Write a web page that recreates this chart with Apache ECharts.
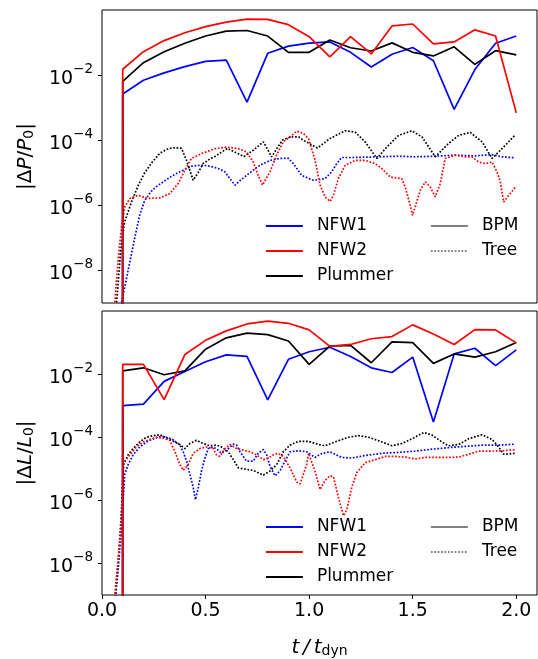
<!DOCTYPE html>
<html>
<head>
<meta charset="utf-8">
<script src="https://cdn.jsdelivr.net/npm/echarts@6/dist/echarts.min.js"></script>
<style>html,body{margin:0;padding:0;background:#fff;}#c{width:538px;height:659px;}</style>
</head>
<body>
<div id="c"></div>
<script>
// ---- data (values stored as log10 of the relative error) ----
const tBPM = [0.099,0.1,0.2,0.3,0.4,0.5,0.6,0.7,0.8,0.9,1.0,1.1,1.2,1.3,1.4,1.5,1.6,1.7,1.8,1.9,2.0];
// first entry: essentially zero error at start
const bpmP_NFW1    = [-16,-2.58,-2.16,-1.93,-1.74,-1.58,-1.54,-2.83,-1.33,-1.11,-1.02,-0.98,-1.30,-1.75,-1.36,-1.15,-1.56,-3.05,-1.83,-1.02,-0.80];
const bpmP_NFW2    = [-16,-1.82,-1.28,-0.94,-0.70,-0.51,-0.37,-0.28,-0.29,-0.45,-0.82,-1.44,-0.82,-1.35,-0.49,-0.43,-1.04,-0.98,-0.61,-0.80,-3.16];
const bpmP_Plummer = [-16,-2.19,-1.62,-1.28,-1.02,-0.80,-0.65,-0.63,-0.80,-1.30,-1.30,-0.92,-1.16,-1.26,-1.01,-1.30,-1.41,-1.13,-1.67,-1.25,-1.38];
const bpmL_NFW1    = [-16,-3.00,-2.95,-2.23,-1.92,-1.61,-1.39,-1.44,-2.82,-1.53,-1.29,-1.15,-1.44,-1.80,-1.95,-1.46,-3.52,-1.36,-1.18,-1.73,-1.23];
const bpmL_NFW2    = [-16,-1.69,-1.69,-2.81,-1.38,-0.93,-0.63,-0.41,-0.32,-0.39,-0.60,-1.12,-1.06,-0.88,-0.81,-0.44,-0.73,-1.06,-0.59,-0.60,-1.01];
const bpmL_Plummer = [-16,-1.90,-1.80,-2.02,-1.90,-1.21,-0.85,-0.70,-0.75,-0.95,-1.69,-1.11,-1.09,-1.64,-0.98,-1.00,-1.66,-1.36,-1.46,-1.29,-1.00];

const treeP_NFW1 = [[0.085,-9.5],[0.094,-9.0],[0.11,-8.5],[0.134,-7.75],[0.158,-7.0],[0.182,-6.3],[0.206,-5.85],[0.239,-5.56],[0.263,-5.42],[0.295,-5.28],[0.33,-5.13],[0.36,-5.02],[0.392,-4.92],[0.432,-4.80],[0.472,-4.77],[0.505,-4.78],[0.537,-4.82],[0.565,-4.88],[0.593,-4.97],[0.62,-5.2],[0.642,-5.38],[0.67,-5.22],[0.698,-5.08],[0.73,-4.92],[0.762,-4.77],[0.811,-4.62],[0.859,-4.56],[0.90,-4.56],[0.924,-4.72],[0.964,-5.08],[1.02,-5.23],[1.077,-5.18],[1.109,-4.97],[1.133,-4.72],[1.157,-4.53],[1.222,-4.53],[1.335,-4.51],[1.432,-4.49],[1.512,-4.51],[1.609,-4.49],[1.706,-4.46],[1.802,-4.48],[1.883,-4.44],[1.931,-4.51],[1.993,-4.54]];
const treeP_NFW2 = [[0.058,-9.5],[0.062,-9.0],[0.07,-8.28],[0.081,-7.46],[0.094,-6.67],[0.11,-6.05],[0.134,-5.79],[0.174,-5.69],[0.222,-5.79],[0.279,-5.77],[0.327,-5.64],[0.368,-5.33],[0.40,-4.92],[0.432,-4.56],[0.48,-4.41],[0.545,-4.26],[0.601,-4.21],[0.658,-4.26],[0.698,-4.36],[0.730,-4.67],[0.754,-5.08],[0.775,-5.38],[0.811,-4.97],[0.843,-4.46],[0.875,-4.05],[0.908,-3.90],[0.940,-3.72],[0.972,-3.79],[0.997,-3.95],[1.028,-4.6],[1.053,-5.38],[1.077,-5.74],[1.101,-5.88],[1.117,-5.69],[1.141,-5.18],[1.174,-4.77],[1.222,-4.62],[1.27,-4.62],[1.319,-4.72],[1.351,-4.87],[1.391,-5.13],[1.447,-5.18],[1.464,-5.44],[1.488,-6.0],[1.499,-6.31],[1.512,-6.05],[1.536,-5.54],[1.561,-5.28],[1.585,-5.44],[1.609,-5.74],[1.633,-5.33],[1.657,-4.56],[1.706,-4.46],[1.754,-4.51],[1.786,-4.51],[1.818,-4.67],[1.851,-4.72],[1.883,-4.67],[1.907,-4.97],[1.923,-5.28],[1.939,-5.90],[1.964,-5.69],[1.996,-5.44]];
const treeP_Plummer = [[0.06,-9.5],[0.07,-9.0],[0.078,-8.4],[0.09,-7.4],[0.102,-6.8],[0.11,-6.5],[0.142,-5.9],[0.174,-5.4],[0.206,-5.0],[0.239,-4.7],[0.279,-4.4],[0.32,-4.26],[0.352,-4.23],[0.384,-4.25],[0.408,-4.62],[0.44,-5.23],[0.464,-5.0],[0.488,-4.72],[0.52,-4.58],[0.545,-4.5],[0.605,-4.25],[0.685,-4.5],[0.73,-4.31],[0.779,-4.05],[0.819,-4.51],[0.87,-4.0],[0.908,-3.90],[0.95,-3.90],[0.972,-4.0],[1.04,-4.24],[1.10,-3.95],[1.174,-3.71],[1.222,-3.75],[1.27,-4.05],[1.327,-4.56],[1.375,-4.21],[1.432,-3.85],[1.496,-3.71],[1.545,-3.90],[1.609,-4.51],[1.673,-4.10],[1.722,-3.85],[1.778,-3.76],[1.835,-4.05],[1.883,-4.56],[1.931,-4.26],[1.993,-3.85]];

const treeL_NFW1 = [[0.062,-9.5],[0.066,-9.0],[0.078,-8.2],[0.09,-7.2],[0.098,-6.4],[0.104,-5.8],[0.110,-5.17],[0.126,-4.87],[0.150,-4.56],[0.182,-4.31],[0.215,-4.15],[0.255,-4.03],[0.287,-3.97],[0.311,-4.0],[0.336,-4.05],[0.376,-4.25],[0.392,-4.46],[0.408,-4.76],[0.424,-5.17],[0.440,-5.58],[0.451,-5.98],[0.464,-5.63],[0.48,-5.07],[0.497,-4.66],[0.513,-4.36],[0.537,-4.31],[0.561,-4.41],[0.577,-4.51],[0.601,-4.41],[0.634,-4.22],[0.650,-4.25],[0.666,-4.46],[0.698,-4.76],[0.730,-4.76],[0.754,-4.51],[0.779,-4.39],[0.795,-4.56],[0.811,-4.92],[0.835,-5.22],[0.859,-5.07],[0.875,-4.87],[0.908,-4.46],[0.948,-4.43],[0.988,-4.46],[1.028,-4.64],[1.06,-4.52],[1.101,-4.46],[1.157,-4.64],[1.206,-4.66],[1.27,-4.58],[1.351,-4.51],[1.432,-4.48],[1.512,-4.44],[1.593,-4.38],[1.673,-4.33],[1.754,-4.29],[1.835,-4.25],[1.915,-4.25],[1.996,-4.22]];
const treeL_NFW2 = [[0.058,-9.5],[0.062,-9.0],[0.075,-8.1],[0.088,-7.2],[0.095,-6.4],[0.1,-5.5],[0.105,-4.81],[0.134,-4.56],[0.166,-4.31],[0.199,-4.15],[0.231,-4.07],[0.263,-4.0],[0.295,-4.03],[0.327,-4.10],[0.352,-4.46],[0.376,-4.87],[0.392,-5.05],[0.416,-4.87],[0.440,-4.51],[0.472,-4.36],[0.505,-4.31],[0.537,-4.36],[0.553,-4.56],[0.569,-4.61],[0.593,-4.36],[0.617,-4.23],[0.650,-4.36],[0.682,-4.41],[0.714,-4.46],[0.746,-4.56],[0.779,-4.71],[0.803,-4.66],[0.827,-4.56],[0.851,-4.51],[0.875,-4.61],[0.908,-4.97],[0.940,-5.42],[0.956,-5.48],[0.988,-4.87],[0.997,-4.51],[1.028,-5.07],[1.053,-5.66],[1.077,-5.37],[1.101,-5.22],[1.117,-5.25],[1.133,-5.68],[1.149,-6.09],[1.166,-6.49],[1.182,-6.29],[1.206,-5.58],[1.230,-5.12],[1.270,-4.81],[1.319,-4.71],[1.367,-4.61],[1.415,-4.61],[1.464,-4.63],[1.512,-4.69],[1.561,-4.64],[1.673,-4.64],[1.722,-4.63],[1.770,-4.54],[1.818,-4.44],[1.867,-4.44],[1.931,-4.43],[1.996,-4.39]];
const treeL_Plummer = [[0.06,-9.5],[0.065,-9.0],[0.075,-8.2],[0.088,-7.0],[0.095,-6.2],[0.1,-5.3],[0.104,-4.87],[0.126,-4.56],[0.150,-4.36],[0.182,-4.15],[0.215,-4.0],[0.247,-3.95],[0.279,-3.92],[0.303,-4.0],[0.336,-4.10],[0.376,-4.23],[0.400,-4.36],[0.424,-4.20],[0.456,-4.10],[0.489,-4.20],[0.521,-4.27],[0.553,-4.25],[0.577,-4.31],[0.609,-4.46],[0.634,-4.71],[0.658,-4.97],[0.698,-5.02],[0.730,-5.05],[0.762,-5.15],[0.779,-5.20],[0.811,-5.07],[0.843,-4.87],[0.875,-4.46],[0.908,-4.25],[0.948,-4.13],[0.997,-4.13],[1.045,-4.23],[1.077,-4.27],[1.125,-4.15],[1.190,-4.0],[1.238,-3.95],[1.287,-4.0],[1.351,-4.15],[1.4,-4.27],[1.447,-4.20],[1.496,-4.05],[1.553,-3.85],[1.593,-3.93],[1.641,-4.15],[1.673,-4.27],[1.722,-4.23],[1.770,-4.05],[1.835,-3.92],[1.883,-4.07],[1.915,-4.31],[1.939,-4.54],[1.996,-4.51]];

const xTicks = [0, 0.5, 1.0, 1.5, 2.0];
const yTicks = [1e-8, 1e-6, 1e-4, 1e-2];
const modelNames = ['NFW1', 'NFW2', 'Plummer'];
const methodNames = ['BPM', 'Tree'];

// ---- build ----
const FONT = 'DejaVu Sans';
const colors = { NFW1: '#0000ff', NFW2: '#ff0000', Plummer: '#000000' };
const LW = 1.7;
const DOT = [1.7, 1.7];

function fromExp(pairs) { return pairs.map(p => [p[0], Math.pow(10, p[1])]); }
function bpmPairs(vals) { return tBPM.map((t, i) => [t, Math.pow(10, vals[i])]); }

function yAxisFor(grid, label) {
  return {
    type: 'log', logBase: 10, gridIndex: grid, min: 1e-9, max: 1,
    axisLine: { show: false },
    splitLine: { show: false },
    axisTick: { show: true, customValues: yTicks, length: 4, lineStyle: { color: '#000', width: 1 } },
    axisLabel: {
      customValues: yTicks, margin: 9, fontFamily: FONT, color: '#000',
      formatter: function (v) {
        const e = Math.round(Math.log10(v));
        return '{b|10}{s|' + (e < 0 ? '\u2212' : '') + Math.abs(e) + '}';
      },
      rich: {
        b: { fontFamily: FONT, fontSize: 19, color: '#000', lineHeight: 26, verticalAlign: 'bottom' },
        s: { fontFamily: FONT, fontSize: 13.5, color: '#000', lineHeight: 15, verticalAlign: 'top' }
      }
    },
    name: label, nameLocation: 'middle', nameRotate: 90, nameGap: 66,
    nameTextStyle: {
      fontFamily: FONT, color: '#000',
      rich: {
        r: { fontFamily: FONT, fontSize: 20, color: '#000', lineHeight: 28, verticalAlign: 'bottom' },
        i: { fontFamily: FONT, fontSize: 20, fontStyle: 'italic', color: '#000', lineHeight: 28, verticalAlign: 'bottom' },
        sub: { fontFamily: FONT, fontSize: 14, color: '#000', lineHeight: 12, verticalAlign: 'bottom' }
      }
    }
  };
}

const option = {
  animation: false,
  backgroundColor: '#fff',
  grid: [
    { left: 102, top: 10, width: 435, height: 293, show: true, borderColor: '#000', borderWidth: 1, backgroundColor: 'transparent' },
    { left: 102, top: 311, width: 435, height: 293, show: true, borderColor: '#000', borderWidth: 1, backgroundColor: 'transparent' }
  ],
  xAxis: [
    { type: 'value', gridIndex: 0, min: 0, max: 2.1, axisLine: { show: false }, axisTick: { show: false }, axisLabel: { show: false }, splitLine: { show: false } },
    {
      type: 'value', gridIndex: 1, min: 0, max: 2.1,
      axisLine: { show: false }, splitLine: { show: false },
      axisTick: { show: true, customValues: xTicks, length: 4, lineStyle: { color: '#000', width: 1 } },
      axisLabel: { customValues: xTicks, margin: 7, fontFamily: FONT, fontSize: 19, color: '#000', formatter: v => v.toFixed(1) },
      name: '{i|t} {i|/} {i|t}{sub|dyn}', nameLocation: 'middle', nameGap: 35,
      nameTextStyle: {
        fontFamily: FONT, color: '#000',
        rich: {
          i: { fontFamily: FONT, fontSize: 20, fontStyle: 'italic', color: '#000', lineHeight: 28, verticalAlign: 'bottom' },
          sub: { fontFamily: FONT, fontSize: 14, color: '#000', lineHeight: 12, verticalAlign: 'bottom' }
        }
      }
    }
  ],
  yAxis: [
    yAxisFor(0, '{r||\u0394}{i|P}{r|/}{i|P}{sub|0}{r||}'),
    yAxisFor(1, '{r||\u0394}{i|L}{r|/}{i|L}{sub|0}{r||}')
  ],
  legend: [],
  series: []
};

function addLine(name, data, ax, color, dotted, z) {
  option.series.push({
    name: name, type: 'line', xAxisIndex: ax, yAxisIndex: ax, data: data,
    symbol: 'none', showSymbol: false, clip: true, silent: true, z: z,
    lineStyle: { color: color, width: LW, type: dotted ? DOT : 'solid', cap: 'butt' },
    itemStyle: { color: color }
  });
}

// Tree (dotted), then BPM (solid); order blue, black, red
const order = ['NFW1', 'Plummer', 'NFW2'];
const treeP = { NFW1: treeP_NFW1, NFW2: treeP_NFW2, Plummer: treeP_Plummer };
const treeL = { NFW1: treeL_NFW1, NFW2: treeL_NFW2, Plummer: treeL_Plummer };
const bpmP = { NFW1: bpmP_NFW1, NFW2: bpmP_NFW2, Plummer: bpmP_Plummer };
const bpmL = { NFW1: bpmL_NFW1, NFW2: bpmL_NFW2, Plummer: bpmL_Plummer };
order.forEach((m, k) => {
  addLine(m + ' tree', fromExp(treeP[m]), 0, colors[m], true, 2 + k);
  addLine(m + ' tree', fromExp(treeL[m]), 1, colors[m], true, 2 + k);
});
order.forEach((m, k) => {
  addLine(m, bpmPairs(bpmP[m]), 0, colors[m], false, 6 + k);
  addLine(m, bpmPairs(bpmL[m]), 1, colors[m], false, 6 + k);
});
// legend-only style entries
addLine(methodNames[0], [], 0, '#808080', false, 1);
addLine(methodNames[1], [], 0, '#808080', true, 1);

function legendAt(names, left, top) {
  return {
    data: names, orient: 'vertical', left: left, top: top, padding: 0,
    itemWidth: 37, itemHeight: 14, itemGap: 5, selectedMode: false,
    itemStyle: { color: 'rgba(0,0,0,0)', borderColor: 'rgba(0,0,0,0)', borderWidth: 0, opacity: 0 },
    lineStyle: { width: 1.8 },
    textStyle: { fontFamily: FONT, fontSize: 17, color: '#000', lineHeight: 20, padding: [0, 0, 0, 9] }
  };
}
option.legend.push(legendAt(modelNames, 265, 216));
option.legend.push(legendAt(methodNames, 430, 216));
option.legend.push(legendAt(modelNames, 265, 517));
option.legend.push(legendAt(methodNames, 430, 517));

const chart = echarts.init(document.getElementById('c'), null, { renderer: 'canvas' });
chart.setOption(option);
</script>
</body>
</html>
